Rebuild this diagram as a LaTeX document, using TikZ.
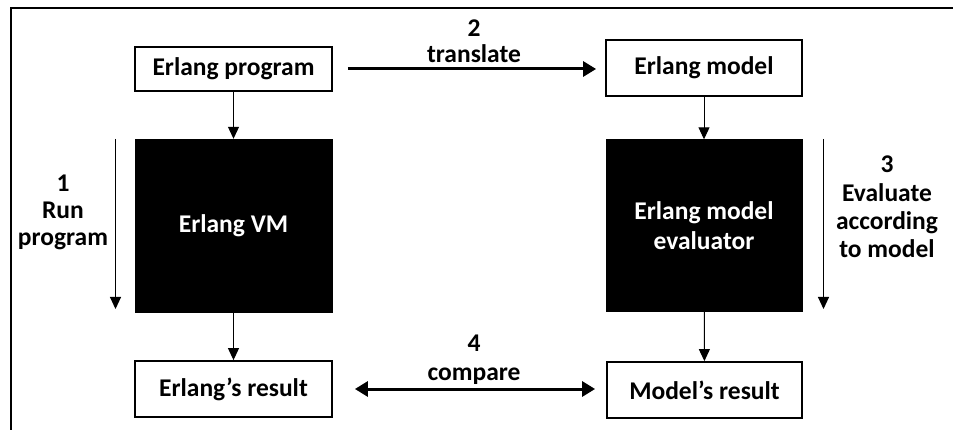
\documentclass[tikz,border=0pt]{standalone}
\usepackage{fontspec}
\setmainfont{Carlito}
\usetikzlibrary{arrows.meta}

\newcommand{\diagfont}{\fontsize{25.5}{29}\selectfont\bfseries}

\tikzset{
  box/.style={draw=black, line width=1.8pt, fill=white, inner sep=0pt,
              font=\diagfont, align=center},
  darkbox/.style={draw=black, fill=black, inner sep=0pt, text=white,
                  font=\diagfont, align=center},
  flow/.style={line width=1pt, -{Triangle[length=12pt,width=11pt]}},
  bigflow/.style={line width=3pt, -{Triangle[length=13pt,width=15pt]}},
  bothflow/.style={line width=3pt, {Triangle[length=13pt,width=15pt]}-{Triangle[length=13pt,width=15pt]}},
  steplabel/.style={font=\diagfont, anchor=base, inner sep=0pt}
}

\begin{document}
\begin{tikzpicture}[x=1pt, y=-1pt]
  \useasboundingbox (0,0) rectangle (953,430);

  % outer frame (open to the right and bottom)
  \draw[line width=2pt] (10.5,430) -- (10.5,8) -- (953,8);

  % boxes
  \node[box, minimum width=197pt, minimum height=44pt] (prog) at (233.5,69) {Erlang program};
  \node[box, minimum width=196pt, minimum height=56pt] (model) at (704,68) {Erlang model};
  \node[darkbox, minimum width=197pt, minimum height=173pt] (vm) at (233.5,225.5) {Erlang VM};
  \node[darkbox, minimum width=196pt, minimum height=172pt] (eval) at (704,225.5) {Erlang model\\[1pt]evaluator};
  \node[box, minimum width=197pt, minimum height=56pt] (eres) at (233.5,389) {Erlang’s result};
  \node[box, minimum width=195pt, minimum height=56pt] (mres) at (704.5,390) {Model’s result};

  % vertical flow
  \draw[flow] (prog) -- (vm);
  \draw[flow] (vm) -- (eres);
  \draw[flow] (model) -- (eval);
  \draw[flow] (eval) -- (mres);

  % translate / compare
  \draw[bigflow, shorten <=15pt, shorten >=9pt] (prog.east) -- (prog.east -| model.west);
  \draw[bothflow, shorten <=22pt, shorten >=11pt] (eres.east) -- (eres.east -| mres.west);
  \node[steplabel] (n2) at (474,37) {2};
  \node[steplabel] (t2) at (474,63) {translate};
  \node[steplabel] (n4) at (474,352) {4};
  \node[steplabel] (t4) at (474,380) {compare};

  % side arrows
  \coordinate (l1) at (115.5,139);
  \coordinate (l2) at (115.5,309);
  \coordinate (r1) at (823.5,139);
  \coordinate (r2) at (823.5,309);
  \draw[flow] (l1) -- (l2);
  \draw[flow] (r1) -- (r2);

  \node[steplabel] (n1) at (63,192) {1};
  \node[steplabel] (t1a) at (63,219) {Run};
  \node[steplabel] (t1b) at (63,246) {program};

  \node[steplabel] (n3) at (887,173) {3};
  \node[steplabel] (t3a) at (887,202) {Evaluate};
  \node[steplabel] (t3b) at (887,230) {according};
  \node[steplabel] (t3c) at (887,258) {to model};
\end{tikzpicture}
\end{document}
